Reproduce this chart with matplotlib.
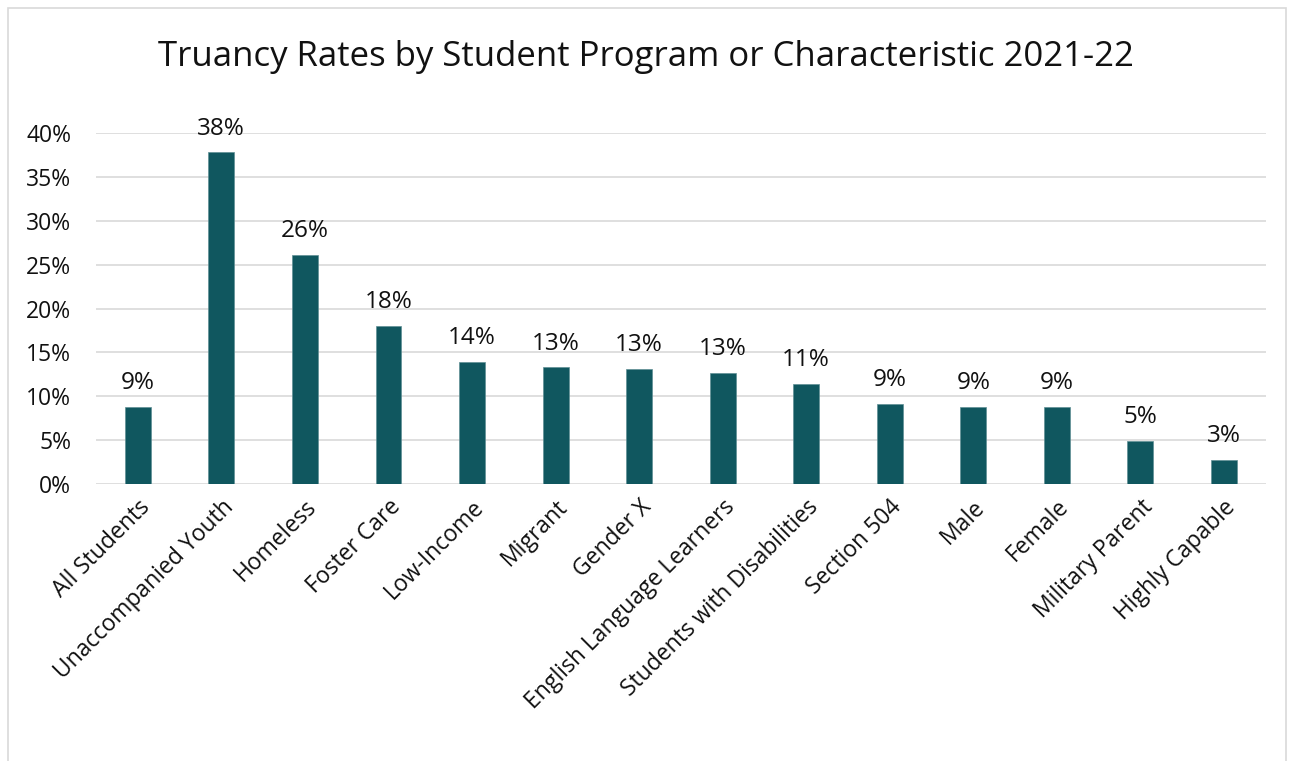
import matplotlib.pyplot as plt
from matplotlib.patches import Rectangle
from matplotlib.ticker import PercentFormatter

plt.rcParams['font.family'] = ['Open Sans', 'DejaVu Sans']

# categories and truancy rates
categories = ['All Students', 'Unaccompanied Youth', 'Homeless', 'Foster Care',
              'Low-Income', 'Migrant', 'Gender X', 'English Language Learners',
              'Students with Disabilities', 'Section 504', 'Male', 'Female',
              'Military Parent', 'Highly Capable']
rates = [0.088, 0.378, 0.261, 0.180, 0.139, 0.133, 0.131, 0.127,
         0.114, 0.091, 0.088, 0.088, 0.049, 0.027]
bar_color = '#10575F'

fig = plt.figure(figsize=(12.91, 7.61), dpi=100)
ax = fig.add_axes([0.0744, 0.364, 0.906, 0.461])

x = range(len(categories))
bars = ax.bar(x, rates, width=0.31, color=bar_color, edgecolor='#5F8F95', linewidth=0.5, zorder=3)
for b, v in zip(bars, rates):
    ax.text(b.get_x() + b.get_width() / 2, v + 0.0135, f'{v:.0%}',
            ha='center', va='bottom', fontsize=17.5, color='#111111')

ax.set_xlim(-0.5, len(categories) - 0.5)
ax.set_ylim(0, 0.40)
ax.set_yticks([i * 0.05 for i in range(9)])
ax.yaxis.set_major_formatter(PercentFormatter(1.0, decimals=0))
ax.grid(axis='y', color='#D9D9D9', linewidth=1.2, zorder=0)
for s in ax.spines.values():
    s.set_visible(False)
ax.tick_params(axis='both', length=0, labelsize=16.5, colors='#111111')
ax.tick_params(axis='y', pad=18)
ax.tick_params(axis='x', pad=8)
ax.set_xticks(list(x))
ax.set_xticklabels(categories, rotation=45, ha='right', rotation_mode='anchor')

fig.text(0.5, 0.925, 'Truancy Rates by Student Program or Characteristic 2021-22',
         ha='center', va='center', fontsize=25, color='#111111')

fig.patches.append(Rectangle((0.006, -0.01), 0.99, 1.0, transform=fig.transFigure,
                             fill=False, edgecolor='#D9D9D9', linewidth=1.2))

fig.savefig('out.png', dpi=100)
